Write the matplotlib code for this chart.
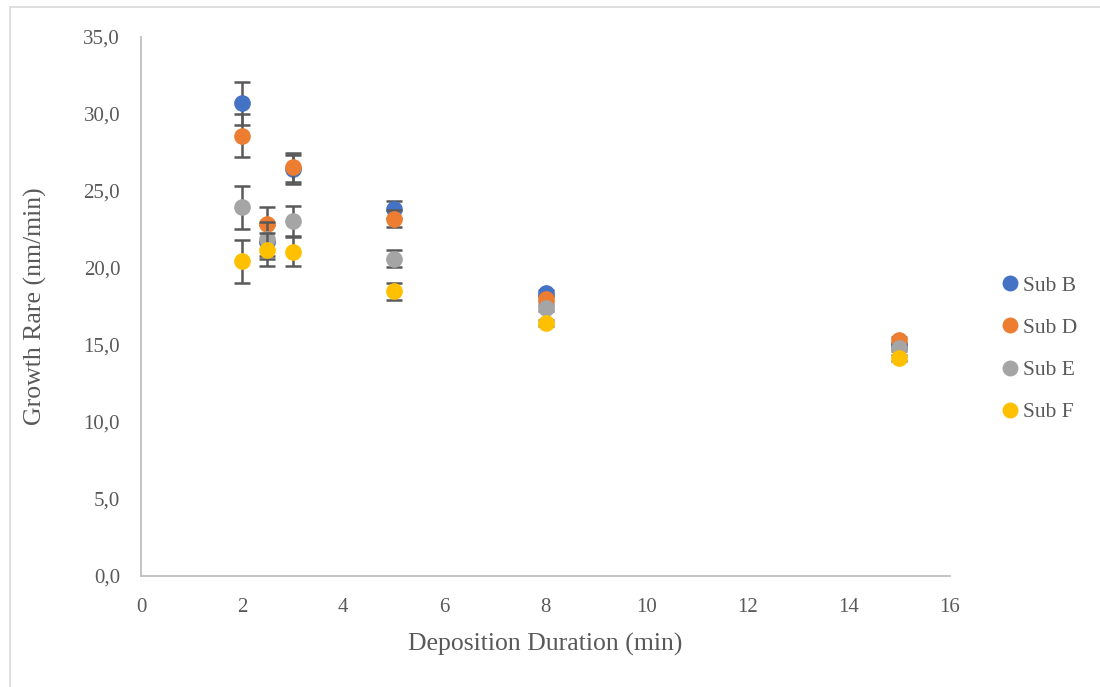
import matplotlib
matplotlib.use("Agg")
import matplotlib.pyplot as plt
from matplotlib.patches import Rectangle
from matplotlib.ticker import FuncFormatter

# deposition duration (min)
duration = [2, 2.5, 3, 5, 8, 15]

# growth rate (nm/min) per substrate
sub_b = [30.7, 21.7, 26.4, 23.8, 18.4, 14.95]
sub_d = [28.6, 22.85, 26.55, 23.2, 18.0, 15.3]
sub_e = [23.95, 21.9, 23.05, 20.6, 17.4, 14.8]
sub_f = [20.45, 21.2, 21.05, 18.5, 16.45, 14.15]

# error bars (same size for every series at a given duration)
err = [1.4, 1.1, 0.95, 0.55, 0.2, 0.2]

series = [("Sub B", sub_b, "#4472c4"),
          ("Sub D", sub_d, "#ed7d31"),
          ("Sub E", sub_e, "#a5a5a5"),
          ("Sub F", sub_f, "#ffc000")]

plt.rcParams['font.family'] = ['Liberation Serif', 'DejaVu Serif']
txt = "#595959"

fig = plt.figure(figsize=(11, 6.87), dpi=100)
ax = fig.add_axes([141 / 1100, 1 - 576 / 687, (950 - 141) / 1100, (576 - 37) / 687])

# chart frame (light border around the chart area)
fig.patches.append(Rectangle((10 / 1100, -0.1), 1.2, 1 - 7 / 687 + 0.1,
                             transform=fig.transFigure, fill=False,
                             edgecolor="#d9d9d9", linewidth=1.2))

z = 3
for name, vals, col in series:
    ax.errorbar(duration, vals, yerr=err, fmt="none", ecolor="#595959",
                elinewidth=1.8, capsize=6, capthick=1.8, zorder=z)
    ax.plot(duration, vals, "o", color=col, markersize=11, label=name,
            zorder=z + 1, linestyle="none")
    z += 2

ax.set_xlim(0, 16)
ax.set_ylim(0, 35)
ax.set_xticks(range(0, 17, 2))
ax.set_yticks([0, 5, 10, 15, 20, 25, 30, 35])
ax.yaxis.set_major_formatter(FuncFormatter(lambda v, p: f"{v:.1f}".replace(".", ",")))
ax.tick_params(axis="y", length=0, labelsize=15, colors=txt, pad=15)
ax.tick_params(axis="x", length=0, labelsize=15, colors=txt, pad=16)

for s in ["top", "right"]:
    ax.spines[s].set_visible(False)
for s in ["left", "bottom"]:
    ax.spines[s].set_color("#bfbfbf")
    ax.spines[s].set_linewidth(1.3)

ax.set_xlabel("Deposition Duration (min)", fontsize=18.5, color=txt, labelpad=11)
ax.set_ylabel("Growth Rare (nm/min)", fontsize=18.5, color=txt, labelpad=26)

leg = ax.legend(loc="center left", bbox_to_anchor=(978 / 1100, 1 - 349 / 687),
                bbox_transform=fig.transFigure, frameon=False,
                fontsize=15.5, handletextpad=0.0, labelspacing=1.03,
                handlelength=1.2, markerscale=0.95)
for t in leg.get_texts():
    t.set_color(txt)

fig.savefig("out.png", dpi=100, facecolor="white")
